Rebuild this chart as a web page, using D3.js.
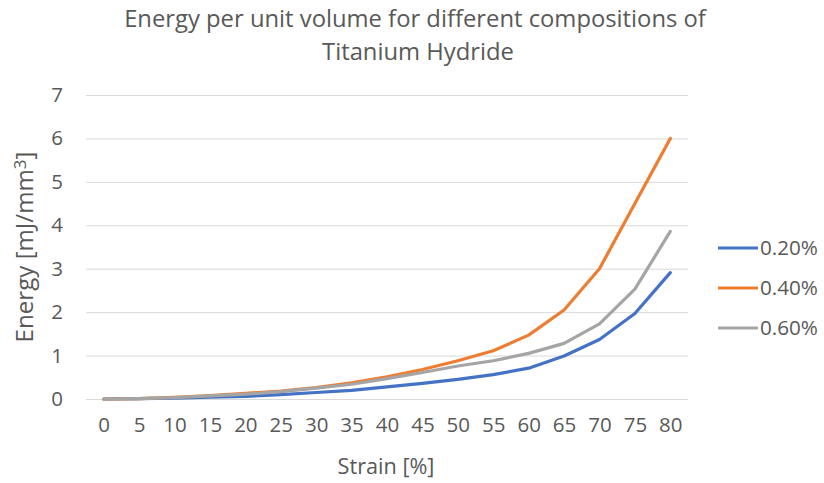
<!DOCTYPE html>
<html><head><meta charset="utf-8">
<script src="https://cdn.jsdelivr.net/npm/d3@7"></script>
<style>body{margin:0;background:#fff}svg{display:block}text{font-family:"Open Sans",sans-serif;fill:#595959}</style>
</head><body><svg id="c" width="824" height="483"></svg>
<script>
const strain = ["0","5","10","15","20","25","30","35","40","45","50","55","60","65","70","75","80"];
const s020 = [0,0.01,0.02,0.04,0.06,0.10,0.15,0.20,0.28,0.36,0.45,0.56,0.71,0.99,1.37,1.97,2.91];
const s040 = [0,0.01,0.04,0.08,0.13,0.18,0.26,0.37,0.51,0.68,0.88,1.11,1.47,2.05,3.00,4.50,6.00];
const s060 = [0,0.01,0.03,0.07,0.11,0.17,0.25,0.34,0.47,0.61,0.76,0.88,1.05,1.28,1.73,2.53,3.86];
const seriesNames = ["0.20%","0.40%","0.60%"];
const yTicks = [0,1,2,3,4,5,6,7];
const titleLines = ["Energy per unit volume for different compositions of","Titanium Hydride"];
const xTitle = "Strain [%]";

const colors = ["#4472C4","#ED7D31","#A5A5A5"];
const series = [s020,s040,s060];
const svg = d3.select("#c");
const L=86,R=688,T=95,B=399;
const x = d3.scalePoint().domain(strain).range([L,R]).padding(0.5);
const y = d3.scaleLinear().domain([0,7]).range([B,T]);

function fit(sel, w){ const n=sel.node(); const cur=parseFloat(sel.attr("font-size")); const len=n.getComputedTextLength(); sel.attr("font-size", cur*w/len); }

// gridlines
svg.append("g").selectAll("line").data(yTicks).join("line")
  .attr("x1",L).attr("x2",R).attr("y1",d=>y(d)+0.5).attr("y2",d=>y(d)+0.5)
  .attr("stroke","#d9d9d9").attr("stroke-width",1);

// y axis labels
const ya = svg.append("g").attr("transform",`translate(${L},0)`)
  .call(d3.axisLeft(y).tickValues(yTicks).tickFormat(d3.format("d")).tickSize(0).tickPadding(23));
ya.select(".domain").remove();
ya.selectAll("text").attr("font-size",20.5).attr("font-family","Open Sans").attr("fill","#595959");

// x axis labels
const xa = svg.append("g").attr("transform",`translate(0,${B})`)
  .call(d3.axisBottom(x).tickSize(0).tickPadding(18));
xa.select(".domain").remove();
xa.selectAll("text").attr("font-size",20.5).attr("font-family","Open Sans").attr("fill","#595959");

// lines
const line = d3.line().x((d,i)=>x(strain[i])).y(d=>y(d));
series.forEach((s,k)=>{
  svg.append("path").datum(s).attr("d",line).attr("fill","none")
    .attr("stroke",colors[k]).attr("stroke-width",3.2).attr("stroke-linejoin","round").attr("stroke-linecap","round");
});

// title
const t1 = svg.append("text").attr("x",415).attr("y",27).attr("text-anchor","middle").attr("font-size",22).text(titleLines[0]);
fit(t1,582);
svg.append("text").attr("x",418).attr("y",60).attr("text-anchor","middle").attr("font-size",t1.attr("font-size")).text(titleLines[1]);

// axis titles
const xt = svg.append("text").attr("x",386).attr("y",474).attr("text-anchor","middle").attr("font-size",20).text(xTitle);
fit(xt,97);
const yt = svg.append("text").attr("transform","translate(33,247) rotate(-90)").attr("text-anchor","middle").attr("font-size",20);
yt.append("tspan").text("Energy [mJ/mm");
yt.append("tspan").attr("dy",-7).attr("font-size","0.7em").text("3");
yt.append("tspan").attr("dy",7).text("]");
fit(yt,191);

// legend
const lg = svg.append("g");
seriesNames.forEach((n,k)=>{
  const cy = 248 + k*40;
  lg.append("line").attr("x1",718).attr("x2",758).attr("y1",cy).attr("y2",cy).attr("stroke",colors[k]).attr("stroke-width",3.2);
  lg.append("text").attr("x",760).attr("y",cy).attr("dy","0.35em").attr("font-size",20).text(n);
});
lg.selectAll("text").each(function(){ fit(d3.select(this),58); });
</script></body></html>
